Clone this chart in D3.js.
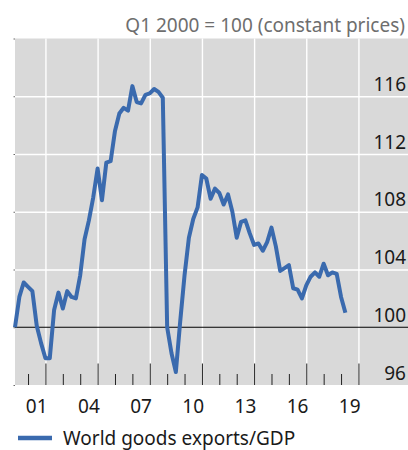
<!DOCTYPE html>
<meta charset="utf-8">
<script src="https://d3js.org/d3.v7.min.js"></script>
<style>
  body { margin: 0; background: #fff; }
  text { font-family: "Noto Sans", "Open Sans", sans-serif; }
</style>
<body>
<div id="chart"></div>
<script>

  // quarterly index, Q1 2000 .. Q1 2019
  var exportsGdp = [
    100.0, 102.1, 103.1, 102.8,
    102.5, 100.1, 98.9, 97.85,
    97.85, 101.2, 102.4, 101.3,
    102.5, 102.1, 102.0, 103.6,
    106.1, 107.4, 109.0, 111.0,
    108.8, 111.4, 111.5, 113.6,
    114.8, 115.2, 115.0, 116.7,
    115.6, 115.5, 116.1, 116.2,
    116.5, 116.3, 115.9, 100.0,
    98.2, 96.9, 100.4, 103.6,
    106.2, 107.5, 108.3, 110.55,
    110.3, 108.9, 109.6, 109.3,
    108.5, 109.2, 108.0, 106.2,
    107.3, 107.4, 106.5, 105.7,
    105.8, 105.3, 105.9, 106.9,
    105.6, 103.9, 104.1, 104.3,
    102.7, 102.6, 102.0, 102.9,
    103.5, 103.8, 103.5, 104.4,
    103.6, 103.8, 103.7, 102.1,
    101.0
  ];
  var startYear = 2000;

  var yTicks = [96, 100, 104, 108, 112, 116, 120];
  var yLabels = [96, 100, 104, 108, 112, 116];
  var yGrid = [104, 108, 112, 116];
  var minorYears = [2001, 2003, 2004, 2006, 2007, 2009, 2010, 2012, 2013, 2015, 2016, 2018, 2019];
  var majorYears = [2002, 2005, 2008, 2011, 2014, 2017, 2020];
  var labelYears = [2001, 2004, 2007, 2010, 2013, 2016, 2019];

  var W = 408, H = 450;
  var plot = {left: 15, right: 408, top: 38.5, bottom: 385};

  // each quarter sits at the end of its quarter
  var data = exportsGdp.map(function(v, i) {
    return {t: startYear + Math.floor(i / 4) + (i % 4 + 1) / 4, v: v};
  });

  var x = d3.scaleLinear()
    .domain([2000.25, 2022.85])
    .range([plot.left, plot.right]);

  var y = d3.scaleLinear()
    .domain([96, 120])
    .range([plot.bottom, plot.top]);

  var svg = d3.select("#chart")
    .append("svg")
      .attr("width", W)
      .attr("height", H);

  svg.append("rect")
    .attr("x", plot.left)
    .attr("y", plot.top)
    .attr("width", plot.right - plot.left)
    .attr("height", plot.bottom - plot.top)
    .attr("fill", "#d9d9d9");

  // white gridlines
  svg.append("g")
    .attr("transform", `translate(${plot.left},0)`)
    .call(d3.axisLeft(y).tickValues(yGrid).tickSize(-(plot.right - plot.left)).tickFormat(""))
    .call(function(g) { g.select(".domain").remove(); })
    .selectAll("line").attr("stroke", "#fff").attr("stroke-width", 1.4);

  svg.append("g")
    .attr("transform", `translate(0,${plot.bottom})`)
    .call(d3.axisBottom(x).tickValues(majorYears).tickSize(-(plot.bottom - plot.top)).tickFormat(""))
    .call(function(g) { g.select(".domain").remove(); })
    .selectAll("line").attr("stroke", "#fff").attr("stroke-width", 1.4);

  // tiny ticks on the left edge
  svg.append("g")
    .attr("transform", `translate(${plot.left},0)`)
    .call(d3.axisLeft(y).tickValues(yTicks).tickSize(1.5).tickFormat(""))
    .call(function(g) { g.select(".domain").remove(); })
    .selectAll("line").attr("stroke", "#666");

  // 100 line
  svg.append("line")
    .attr("x1", plot.left).attr("x2", plot.right)
    .attr("y1", y(100)).attr("y2", y(100))
    .attr("stroke", "#000").attr("stroke-width", 1.1);

  // year ticks, inside the panel
  svg.append("g")
    .attr("transform", `translate(0,${plot.bottom})`)
    .call(d3.axisBottom(x).tickValues(minorYears).tickSize(-11).tickSizeOuter(0).tickFormat(""))
    .call(function(g) { g.select(".domain").remove(); })
    .selectAll("line").attr("stroke", "#222");

  svg.append("g")
    .attr("transform", `translate(0,${plot.bottom})`)
    .call(d3.axisBottom(x).tickValues(majorYears).tickSize(-21.5).tickSizeOuter(0).tickFormat(""))
    .call(function(g) { g.select(".domain").remove(); })
    .selectAll("line").attr("stroke", "#222");

  // year labels, centred on the year
  svg.append("g")
    .selectAll("text")
    .data(labelYears)
    .join("text")
      .attr("x", function(d) { return x(d + 0.5); })
      .attr("y", 412.5)
      .attr("text-anchor", "middle")
      .style("font-size", "19px")
      .style("fill", "#1a1a1a")
      .text(function(d) { return String(d).slice(2); });

  // y labels inside, on the right
  svg.append("g")
    .selectAll("text")
    .data(yLabels)
    .join("text")
      .attr("x", 406)
      .attr("y", function(d) { return y(d) - 5.5; })
      .attr("text-anchor", "end")
      .style("font-size", "19px")
      .style("fill", "#1a1a1a")
      .text(function(d) { return d; });

  svg.append("text")
    .attr("x", 405)
    .attr("y", 32)
    .attr("text-anchor", "end")
    .style("font-size", "19px")
    .style("fill", "#6e6e6e")
    .text("Q1 2000 = 100 (constant prices)");

  var line = d3.line()
    .x(function(d) { return x(d.t); })
    .y(function(d) { return y(d.v); });

  svg.append("path")
    .datum(data)
    .attr("d", line)
    .attr("fill", "none")
    .attr("stroke", "#3a6aae")
    .attr("stroke-width", 4)
    .attr("stroke-linejoin", "round");

  // legend
  svg.append("line")
    .attr("x1", 18).attr("x2", 52)
    .attr("y1", 438).attr("y2", 438)
    .attr("stroke", "#3a6aae")
    .attr("stroke-width", 4.3);

  svg.append("text")
    .attr("x", 63)
    .attr("y", 445)
    .style("font-size", "19px")
    .style("fill", "#1a1a1a")
    .text("World goods exports/GDP");

</script>
</body>
